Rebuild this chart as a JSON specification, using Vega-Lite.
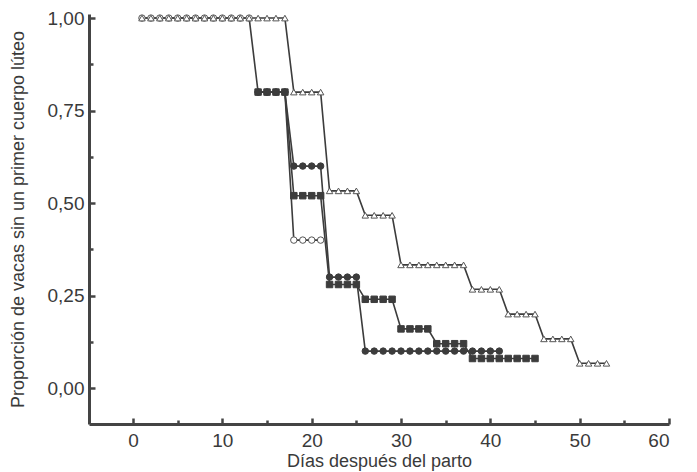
{
  "$schema": "https://vega.github.io/schema/vega-lite/v6.json",
  "width": 580,
  "height": 410,
  "autosize": "none",
  "padding": {"left": 89, "top": 14, "right": 28, "bottom": 48},
  "background": "white",
  "config": {
    "view": {"stroke": null},
    "font": "Liberation Sans",
    "axis": {
      "domainColor": "#444444",
      "domainWidth": 3,
      "tickColor": "#444444",
      "tickWidth": 2.5,
      "labelColor": "#3a3a3a",
      "labelFont": "Liberation Sans",
      "labelFontSize": 19,
      "titleColor": "#3a3a3a",
      "titleFont": "Liberation Sans",
      "titleFontSize": 18,
      "titleFontWeight": "normal",
      "grid": false
    }
  },
  "data": {
    "values": [
      {"s": "A", "d": 1, "v": 1}, {"s": "A", "d": 2, "v": 1}, {"s": "A", "d": 3, "v": 1}, {"s": "A", "d": 4, "v": 1},
      {"s": "A", "d": 5, "v": 1}, {"s": "A", "d": 6, "v": 1}, {"s": "A", "d": 7, "v": 1}, {"s": "A", "d": 8, "v": 1},
      {"s": "A", "d": 9, "v": 1}, {"s": "A", "d": 10, "v": 1}, {"s": "A", "d": 11, "v": 1}, {"s": "A", "d": 12, "v": 1},
      {"s": "A", "d": 13, "v": 1},
      {"s": "A", "d": 14, "v": 0.8}, {"s": "A", "d": 15, "v": 0.8}, {"s": "A", "d": 16, "v": 0.8}, {"s": "A", "d": 17, "v": 0.8},
      {"s": "A", "d": 18, "v": 0.4}, {"s": "A", "d": 19, "v": 0.4}, {"s": "A", "d": 20, "v": 0.4}, {"s": "A", "d": 21, "v": 0.4},

      {"s": "B", "d": 14, "v": 0.8}, {"s": "B", "d": 15, "v": 0.8}, {"s": "B", "d": 16, "v": 0.8}, {"s": "B", "d": 17, "v": 0.8},
      {"s": "B", "d": 18, "v": 0.6}, {"s": "B", "d": 19, "v": 0.6}, {"s": "B", "d": 20, "v": 0.6}, {"s": "B", "d": 21, "v": 0.6},
      {"s": "B", "d": 22, "v": 0.3}, {"s": "B", "d": 23, "v": 0.3}, {"s": "B", "d": 24, "v": 0.3}, {"s": "B", "d": 25, "v": 0.3},
      {"s": "B", "d": 26, "v": 0.1}, {"s": "B", "d": 27, "v": 0.1}, {"s": "B", "d": 28, "v": 0.1}, {"s": "B", "d": 29, "v": 0.1},
      {"s": "B", "d": 30, "v": 0.1}, {"s": "B", "d": 31, "v": 0.1}, {"s": "B", "d": 32, "v": 0.1}, {"s": "B", "d": 33, "v": 0.1},
      {"s": "B", "d": 34, "v": 0.1}, {"s": "B", "d": 35, "v": 0.1}, {"s": "B", "d": 36, "v": 0.1}, {"s": "B", "d": 37, "v": 0.1},
      {"s": "B", "d": 38, "v": 0.1}, {"s": "B", "d": 39, "v": 0.1}, {"s": "B", "d": 40, "v": 0.1}, {"s": "B", "d": 41, "v": 0.1},

      {"s": "C", "d": 14, "v": 0.8}, {"s": "C", "d": 15, "v": 0.8}, {"s": "C", "d": 16, "v": 0.8}, {"s": "C", "d": 17, "v": 0.8},
      {"s": "C", "d": 18, "v": 0.52}, {"s": "C", "d": 19, "v": 0.52}, {"s": "C", "d": 20, "v": 0.52}, {"s": "C", "d": 21, "v": 0.52},
      {"s": "C", "d": 22, "v": 0.28}, {"s": "C", "d": 23, "v": 0.28}, {"s": "C", "d": 24, "v": 0.28}, {"s": "C", "d": 25, "v": 0.28},
      {"s": "C", "d": 26, "v": 0.24}, {"s": "C", "d": 27, "v": 0.24}, {"s": "C", "d": 28, "v": 0.24}, {"s": "C", "d": 29, "v": 0.24},
      {"s": "C", "d": 30, "v": 0.16}, {"s": "C", "d": 31, "v": 0.16}, {"s": "C", "d": 32, "v": 0.16}, {"s": "C", "d": 33, "v": 0.16},
      {"s": "C", "d": 34, "v": 0.12}, {"s": "C", "d": 35, "v": 0.12}, {"s": "C", "d": 36, "v": 0.12}, {"s": "C", "d": 37, "v": 0.12},
      {"s": "C", "d": 38, "v": 0.08}, {"s": "C", "d": 39, "v": 0.08}, {"s": "C", "d": 40, "v": 0.08}, {"s": "C", "d": 41, "v": 0.08},
      {"s": "C", "d": 42, "v": 0.08}, {"s": "C", "d": 43, "v": 0.08}, {"s": "C", "d": 44, "v": 0.08}, {"s": "C", "d": 45, "v": 0.08},

      {"s": "D", "d": 1, "v": 1}, {"s": "D", "d": 2, "v": 1}, {"s": "D", "d": 3, "v": 1}, {"s": "D", "d": 4, "v": 1},
      {"s": "D", "d": 5, "v": 1}, {"s": "D", "d": 6, "v": 1}, {"s": "D", "d": 7, "v": 1}, {"s": "D", "d": 8, "v": 1},
      {"s": "D", "d": 9, "v": 1}, {"s": "D", "d": 10, "v": 1}, {"s": "D", "d": 11, "v": 1}, {"s": "D", "d": 12, "v": 1},
      {"s": "D", "d": 13, "v": 1}, {"s": "D", "d": 14, "v": 1}, {"s": "D", "d": 15, "v": 1}, {"s": "D", "d": 16, "v": 1},
      {"s": "D", "d": 17, "v": 1},
      {"s": "D", "d": 18, "v": 0.8}, {"s": "D", "d": 19, "v": 0.8}, {"s": "D", "d": 20, "v": 0.8}, {"s": "D", "d": 21, "v": 0.8},
      {"s": "D", "d": 22, "v": 0.533}, {"s": "D", "d": 23, "v": 0.533}, {"s": "D", "d": 24, "v": 0.533}, {"s": "D", "d": 25, "v": 0.533},
      {"s": "D", "d": 26, "v": 0.467}, {"s": "D", "d": 27, "v": 0.467}, {"s": "D", "d": 28, "v": 0.467}, {"s": "D", "d": 29, "v": 0.467},
      {"s": "D", "d": 30, "v": 0.333}, {"s": "D", "d": 31, "v": 0.333}, {"s": "D", "d": 32, "v": 0.333}, {"s": "D", "d": 33, "v": 0.333},
      {"s": "D", "d": 34, "v": 0.333}, {"s": "D", "d": 35, "v": 0.333}, {"s": "D", "d": 36, "v": 0.333}, {"s": "D", "d": 37, "v": 0.333},
      {"s": "D", "d": 38, "v": 0.267}, {"s": "D", "d": 39, "v": 0.267}, {"s": "D", "d": 40, "v": 0.267}, {"s": "D", "d": 41, "v": 0.267},
      {"s": "D", "d": 42, "v": 0.2}, {"s": "D", "d": 43, "v": 0.2}, {"s": "D", "d": 44, "v": 0.2}, {"s": "D", "d": 45, "v": 0.2},
      {"s": "D", "d": 46, "v": 0.133}, {"s": "D", "d": 47, "v": 0.133}, {"s": "D", "d": 48, "v": 0.133}, {"s": "D", "d": 49, "v": 0.133},
      {"s": "D", "d": 50, "v": 0.067}, {"s": "D", "d": 51, "v": 0.067}, {"s": "D", "d": 52, "v": 0.067}, {"s": "D", "d": 53, "v": 0.067}
    ]
  },
  "encoding": {
    "x": {
      "field": "d", "type": "quantitative",
      "scale": {"domain": [-4.93, 60], "nice": false, "zero": false},
      "axis": {
        "title": "Días después del parto",
        "values": [0, 5, 10, 15, 20, 25, 30, 35, 40, 45, 50, 55, 60],
        "labelExpr": "datum.value % 10 == 0 ? datum.label : ''",
        "tickSize": {"condition": {"test": "datum.value % 10 == 0", "value": -6}, "value": -4},
        "labelPadding": 13,
        "titlePadding": 2
      }
    },
    "y": {
      "field": "v", "type": "quantitative",
      "scale": {"domain": [-0.097, 1.011], "nice": false, "zero": false},
      "axis": {
        "title": "Proporción de vacas sin un primer cuerpo lúteo",
        "values": [0, 0.125, 0.25, 0.375, 0.5, 0.625, 0.75, 0.875, 1],
        "labelExpr": "datum.value % 0.25 == 0 ? replace(format(datum.value, '.2f'), '.', ',') : ''",
        "tickSize": {"condition": {"test": "datum.value % 0.25 == 0", "value": -6}, "value": -4},
        "labelPadding": 11,
        "titlePadding": 20
      }
    }
  },
  "layer": [
    {
      "mark": {"type": "line", "color": "#3c3c3c", "strokeWidth": 1.6},
      "encoding": {"detail": {"field": "s"}}
    },
    {
      "mark": {"type": "point", "filled": false, "opacity": 1, "strokeWidth": 1},
      "encoding": {
        "shape": {"field": "s", "type": "nominal", "legend": null,
          "scale": {"domain": ["A", "B", "C", "D"], "range": ["circle", "circle", "square", "triangle-up"]}},
        "fill": {"field": "s", "type": "nominal", "legend": null,
          "scale": {"domain": ["A", "B", "C", "D"], "range": ["white", "#3c3c3c", "#3c3c3c", "white"]}},
        "stroke": {"field": "s", "type": "nominal", "legend": null,
          "scale": {"domain": ["A", "B", "C", "D"], "range": ["#555555", "#3c3c3c", "#3c3c3c", "#555555"]}},
        "size": {"field": "s", "type": "nominal", "legend": null,
          "scale": {"domain": ["A", "B", "C", "D"], "range": [42, 42, 40, 70]}}
      }
    }
  ]
}
